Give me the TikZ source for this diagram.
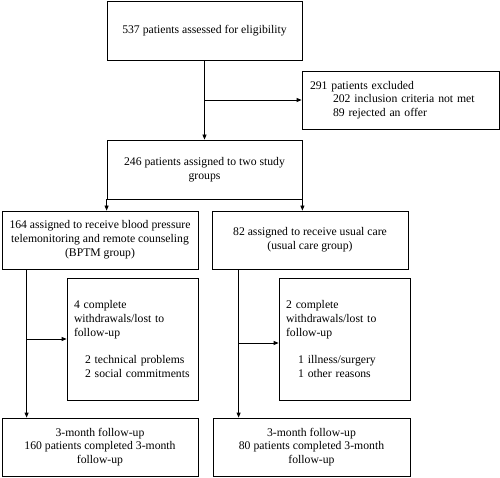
\documentclass[tikz,border=0pt]{standalone}
\usepackage{fontspec}
\setmainfont{Liberation Serif}
\usetikzlibrary{arrows.meta}
\begin{document}
\begin{tikzpicture}[x=1pt,y=-1pt,
  box/.style={draw, line width=0.8pt, inner sep=0pt, align=center, font=\fontsize{11.7}{13.8}\selectfont},
  lbox/.style={box, align=left},
  arr/.style={line width=0.8pt, -{Triangle[length=5pt,width=4pt]}}]
\useasboundingbox (0,0) rectangle (500,478);
\node[box, minimum width=195pt, minimum height=59pt] (assess) at (204.5,30.5) {537 patients assessed for eligibility};
\node[lbox, minimum width=197pt, minimum height=58pt, text width=181pt] (excl) at (400.5,100) {291 patients excluded\\\hspace*{23pt}202 inclusion criteria not met\\\hspace*{23pt}89 rejected an offer};
\node[box, minimum width=195pt, minimum height=59pt] (assign) at (204.5,169.5) {246 patients assigned to two study\\groups};
\node[box, minimum width=196pt, minimum height=58pt] (bptm) at (100,240) {164 assigned to receive blood pressure\\telemonitoring and remote counseling\\(BPTM group)};
\node[box, minimum width=196pt, minimum height=58pt] (usual) at (310,240) {82 assigned to receive usual care\\(usual care group)};
\node[lbox, minimum width=131pt, minimum height=122pt, text width=117pt] (wdL) at (132.5,339) {4 complete\\withdrawals/lost to\\follow-up\\[13.8pt]\hspace*{11pt}2 technical problems\\\hspace*{11pt}2 social commitments};
\node[lbox, minimum width=131pt, minimum height=122pt, text width=117pt] (wdR) at (344.5,339) {2 complete\\withdrawals/lost to\\follow-up\\[13.8pt]\hspace*{12pt}1 illness/surgery\\\hspace*{12pt}1 other reasons};
\node[box, minimum width=196pt, minimum height=58pt] (folL) at (100,447) {3-month follow-up\\160 patients completed 3-month\\follow-up};
\node[box, minimum width=197pt, minimum height=58pt] (folR) at (311.5,447) {3-month follow-up\\80 patients completed 3-month\\follow-up};
\draw[arr] (assess.south) -- (assign.north);
\draw[arr] (assess.south |- excl.west) -- (excl.west);
\draw[arr] (assign.south west) -- (bptm.north -| assign.south west);
\draw[arr] (assign.south east) -- (usual.north -| assign.south east);
\coordinate (lt) at ([xshift=25pt]bptm.south west);
\coordinate (rt) at ([xshift=27pt]usual.south west);
\coordinate (wr) at ([yshift=-4pt]wdR.west);
\draw[arr] (lt) -- (lt |- folL.north);
\draw[arr] (lt |- wdL.west) -- (wdL.west);
\draw[arr] (rt) -- (rt |- folR.north);
\draw[arr] (rt |- wr) -- (wr);
\end{tikzpicture}
\end{document}
